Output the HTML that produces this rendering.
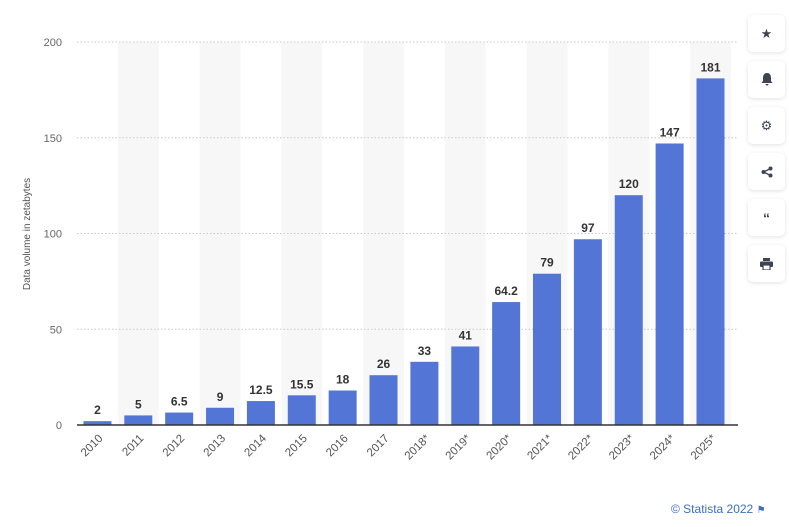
<!DOCTYPE html>
<html><head><meta charset="utf-8"><style>
body{margin:0;width:789px;height:527px;background:#fff;font-family:"Liberation Sans",sans-serif;overflow:hidden;position:relative}
.btn{position:absolute;left:748px;width:37px;height:37px;background:#fff;border-radius:5px;box-shadow:0 1px 4px rgba(0,0,0,0.12);display:flex;align-items:center;justify-content:center;color:#3d4452;font-size:13px}
</style></head><body>
<svg id="chart" width="789" height="527" style="position:absolute;left:0;top:0"></svg>
<div class="btn" style="top:15px">★</div>
<div class="btn" style="top:61px">
<svg width="12" height="13" viewBox="0 0 12 13"><path d="M6 0C3 0 2 2.5 2 5v3L0.5 10h11L10 8V5C10 2.5 9 0 6 0z M4.5 11h3a1.5 1.5 0 0 1-3 0z" fill="#3d4452"/></svg></div>
<div class="btn" style="top:107px">⚙</div>
<div class="btn" style="top:153px">
<svg width="12" height="12"><circle cx="9.5" cy="2.5" r="2" fill="#3d4452"/><circle cx="2.5" cy="6" r="2" fill="#3d4452"/><circle cx="9.5" cy="9.5" r="2" fill="#3d4452"/><path d="M9.5 2.5L2.5 6L9.5 9.5" stroke="#3d4452" stroke-width="1.3" fill="none"/></svg></div>
<div class="btn" style="top:199px;font-weight:bold;font-size:14px">“</div>
<div class="btn" style="top:245px">
<svg width="13" height="12"><rect x="3" y="0" width="7" height="3" fill="#3d4452"/><rect x="0" y="3.5" width="13" height="5.5" rx="1" fill="#3d4452"/><rect x="3" y="7" width="7" height="5" fill="#fff" stroke="#3d4452" stroke-width="1.2"/></svg></div>
<div style="position:absolute;left:671px;top:502px;font-size:12px;color:#3a6fbf">© Statista 2022 <span style="font-size:10px">⚑</span></div>
<script>
const categories=["2010","2011","2012","2013","2014","2015","2016","2017","2018*","2019*","2020*","2021*","2022*","2023*","2024*","2025*"];
const values=[2,5,6.5,9,12.5,15.5,18,26,33,41,64.2,79,97,120,147,181];
const labels=["2","5","6.5","9","12.5","15.5","18","26","33","41","64.2","79","97","120","147","181"];
const yTicks=[0,50,100,150,200];
const svg=document.getElementById('chart');
const NS='http://www.w3.org/2000/svg';
const x0=77,step=40.87,y0=425,yTop=42,yMax=200;
function xc(i){return x0+step*(i+0.5);}
function y(v){return y0-(y0-yTop)*v/yMax;}
function mk(t,a){const e=document.createElementNS(NS,t);for(const k in a)e.setAttribute(k,a[k]);svg.appendChild(e);return e;}
categories.forEach((c,i)=>{if(i%2==1){const b=mk('rect',{x:xc(i)-step/2,y:yTop,width:step,height:y0-yTop,fill:'#f7f7f7'});

}});
yTicks.forEach(t=>{if(t>0){const l=mk('line',{x1:x0,x2:738,y1:y(t),y2:y(t),stroke:'#c8c8c8','stroke-dasharray':'1.5,2'});

}
const tx=mk('text',{x:62,y:y(t)+4,'text-anchor':'end','font-size':11,fill:'#666'});tx.textContent=t;

});
categories.forEach((c,i)=>{
const r=mk('rect',{x:xc(i)-14,y:y(values[i]),width:28,height:y0-y(values[i]),fill:'#5275d6'});


const t=mk('text',{x:xc(i),y:y(values[i])-7,'text-anchor':'middle','font-size':12,'font-weight':'bold',fill:'#333'});t.textContent=labels[i];


const xl=mk('text',{x:xc(i)+6,y:y0+14,'text-anchor':'end','font-size':11.5,fill:'#555',transform:`rotate(-45 ${xc(i)+6} ${y0+14})`});xl.textContent=c;

});
const ax=mk('line',{x1:x0,x2:738,y1:y0,y2:y0,stroke:'#333','stroke-width':1.5});


const yt=mk('text',{x:30,y:234,'text-anchor':'middle','font-size':10,fill:'#555',transform:'rotate(-90 30 234)'});yt.textContent='Data volume in zetabytes';


</script>
</body></html>
